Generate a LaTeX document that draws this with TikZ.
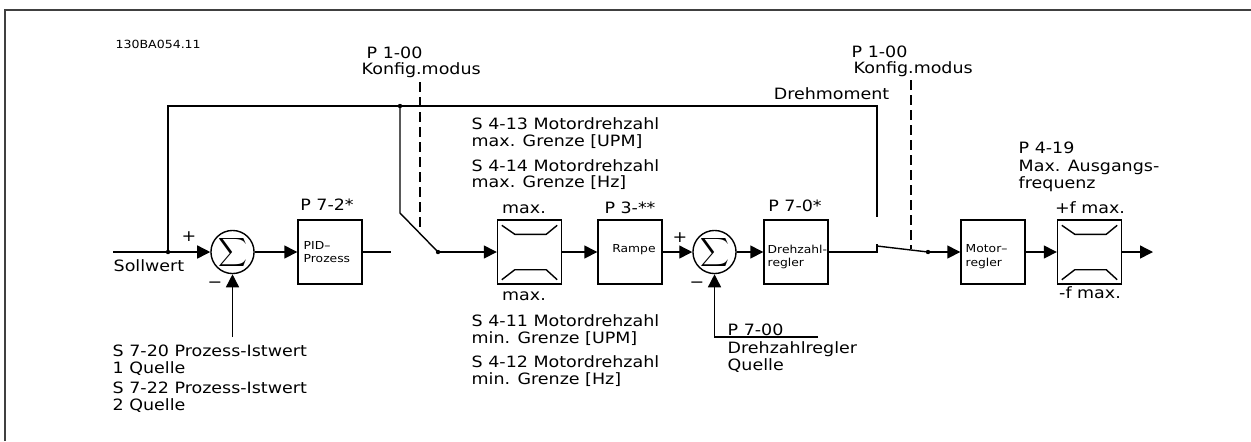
\documentclass[tikz,border=0pt]{standalone}
\usepackage{fontspec}
\newfontfamily\lbl{DejaVu Sans}[FakeStretch=1.12]
\usetikzlibrary{arrows.meta}
\begin{document}
\begin{tikzpicture}[x=0.5pt,y=-0.5pt,
  line width=0.7pt,
  txt/.style={font=\lbl\fontsize{7.8}{8}\selectfont, inner sep=0pt, text height=5.7pt, text depth=0pt, anchor=west},
  txtc/.style={txt, anchor=center},
  small/.style={font=\lbl\fontsize{5.5}{6}\selectfont, inner sep=0pt, text height=4pt, text depth=0pt, anchor=west},
  blk/.style={draw, minimum width=32pt, minimum height=32pt, inner sep=0pt},
  sumnode/.style={draw, circle, minimum size=19pt, inner sep=0pt},
  arr/.style={-{Triangle[length=6.5pt,width=6.5pt]}},
  jdot/.style={circle, fill, inner sep=0pt, minimum size=2.2pt},
  dsh/.style={dash pattern=on 5pt off 2.5pt}
]
\useasboundingbox (0,0) rectangle (1251,441);
\draw[black!75, line width=0.8pt] (5,441) -- (5,10) -- (1251,10);

% blocks
\node[sumnode] (sum1) at (232.5,252) {\fontsize{9}{9}\selectfont$\displaystyle\sum$};
\node[blk] (pid) at (330,252) {};
\node[blk] (lim1) at (529.5,252) {};
\node[blk] (ramp) at (630,252) {};
\node[sumnode] (sum2) at (714.5,252) {\fontsize{9}{9}\selectfont$\displaystyle\sum$};
\node[blk] (ctrl) at (796,252) {};
\node[blk] (motor) at (993,252) {};
\node[blk] (lim2) at (1089.5,252) {};

% limiter symbols
\foreach \b in {lim1,lim2}{
  \draw ([shift={(5,6)}]\b.north west) -- ([shift={(18,15)}]\b.north west) -- ([shift={(-16,15)}]\b.north east) -- ([shift={(-5,6)}]\b.north east);
  \draw ([shift={(5,-5)}]\b.south west) -- ([shift={(18,-15)}]\b.south west) -- ([shift={(-16,-15)}]\b.south east) -- ([shift={(-5,-5)}]\b.south east);
}

% coordinates
\coordinate (sollin) at (113,252);
\coordinate (jsoll) at (168,252);
\coordinate (tl) at (168,106);
\coordinate (jtop) at (400,106);
\coordinate (bend1) at (400,213);
\coordinate (piv1) at (438,252);
\coordinate (pidend) at (391,252);
\coordinate (tr) at (877,106);
\coordinate (trend) at (877,217);
\coordinate (c2) at (877,252);
\coordinate (c2t) at (877,244);
\coordinate (c2b) at (877,246);
\coordinate (piv2) at (928,252);
\coordinate (outend) at (1153,252);
\coordinate (fb1) at (232.5,337);
\coordinate (fb2e) at (818,337);
\coordinate (fb2) at (714.5,337);
\coordinate (d1a) at (420,82);
\coordinate (d1b) at (420,232);
\coordinate (d2a) at (911,80);
\coordinate (d2b) at (911,249);

% connectors
\draw[arr] (sollin) -- (sum1);
\draw (jsoll) -- (tl) -- (tr) -- (trend);
\draw (jtop) -- (bend1) -- (piv1);
\draw[arr] (sum1) -- (pid);
\draw (pid) -- (pidend);
\draw[arr] (piv1) -- (lim1);
\draw[arr] (lim1) -- (ramp);
\draw[arr] (ramp) -- (sum2);
\draw[arr] (sum2) -- (ctrl);
\draw[arr] (fb1) -- (sum1);
\draw[arr] (fb2e) -- (fb2) -- (sum2);
\draw (ctrl) -- (c2) -- (c2t);
\draw (c2b) -- (piv2);
\draw[arr] (piv2) -- (motor);
\draw[arr] (motor) -- (lim2);
\draw[arr] (lim2) -- (outend);
\draw[dsh] (d1a) -- (d1b);
\draw[dsh] (d2a) -- (d2b);
\node[jdot] at (jsoll) {};
\node[jdot] at (jtop) {};
\node[jdot] at (piv1) {};
\node[jdot] at (piv2) {};

% texts
\node[txt, font=\lbl\fontsize{5.6}{6}\selectfont, text height=4pt] (code) at (115,44) {130BA054.11};
\node[txt] (p100a) at (366,53) {P 1-00};
\node[txt] (konfa) at (361,69) {Konfig.modus};
\node[txt] (p100b) at (851,52) {P 1-00};
\node[txt] (konfb) at (853,68) {Konfig.modus};
\node[txt, anchor=east] (dreh) at (890,93.5) {Drehmoment};
\node[txt] (s413) at (471,123.5) {S 4-13 Motordrehzahl};
\node[txt] (s413b) at (471,141) {max. Grenze [UPM]};
\node[txt] (s414) at (471,166) {S 4-14 Motordrehzahl};
\node[txt] (s414b) at (471,182) {max. Grenze [Hz]};
\node[txtc] (maxt) at (524,208) {max.};
\node[txtc] (p3) at (630,208) {P 3-**};
\node[txtc] (p70) at (795,206) {P 7-0*};
\node[txtc] (p72) at (327,205) {P 7-2*};
\node[txtc] (maxb) at (524,294.5) {max.};
\node[txt] (s411) at (471,320.5) {S 4-11 Motordrehzahl};
\node[txt] (s411b) at (471,338) {min. Grenze [UPM]};
\node[txt] (s412) at (471,362) {S 4-12 Motordrehzahl};
\node[txt] (s412b) at (471,379) {min. Grenze [Hz]};
\node[txt] (p700) at (727,330) {P 7-00};
\node[txt] (p700b) at (727,348) {Drehzahlregler};
\node[txt] (p700c) at (727,365) {Quelle};
\node[txt] (soll) at (113,266) {Sollwert};
\node[txt] (s720) at (112,350.5) {S 7-20 Prozess-Istwert};
\node[txt] (s720b) at (112,368) {1 Quelle};
\node[txt] (s722) at (112,387.5) {S 7-22 Prozess-Istwert};
\node[txt] (s722b) at (112,405) {2 Quelle};
\node[txt] (p419) at (1018,148) {P 4-19};
\node[txt] (p419b) at (1018,165.5) {Max. Ausgangs-};
\node[txt] (p419c) at (1018,182.5) {frequenz};
\node[txtc] (fmax) at (1090,208) {+f max.};
\node[txtc] (fmin) at (1090,292.5) {-f max.};
\node[txtc] (plus1) at (189,236) {+};
\node[txtc] (minus1) at (215,282) {−};
\node[txtc] (plus2) at (680,237) {+};
\node[txtc] (minus2) at (697,282) {−};
\node[small] (pidt1) at (303,245) {PID–};
\node[small] (pidt2) at (303,258.5) {Prozess};
\node[small, anchor=center] (rampt) at (634,248) {Rampe};
\node[small] (ctrlt1) at (767,249.5) {Drehzahl-};
\node[small] (ctrlt2) at (767,262.5) {regler};
\node[small] (motort1) at (965,248.5) {Motor–};
\node[small] (motort2) at (965,262.5) {regler};
\end{tikzpicture}
\end{document}
